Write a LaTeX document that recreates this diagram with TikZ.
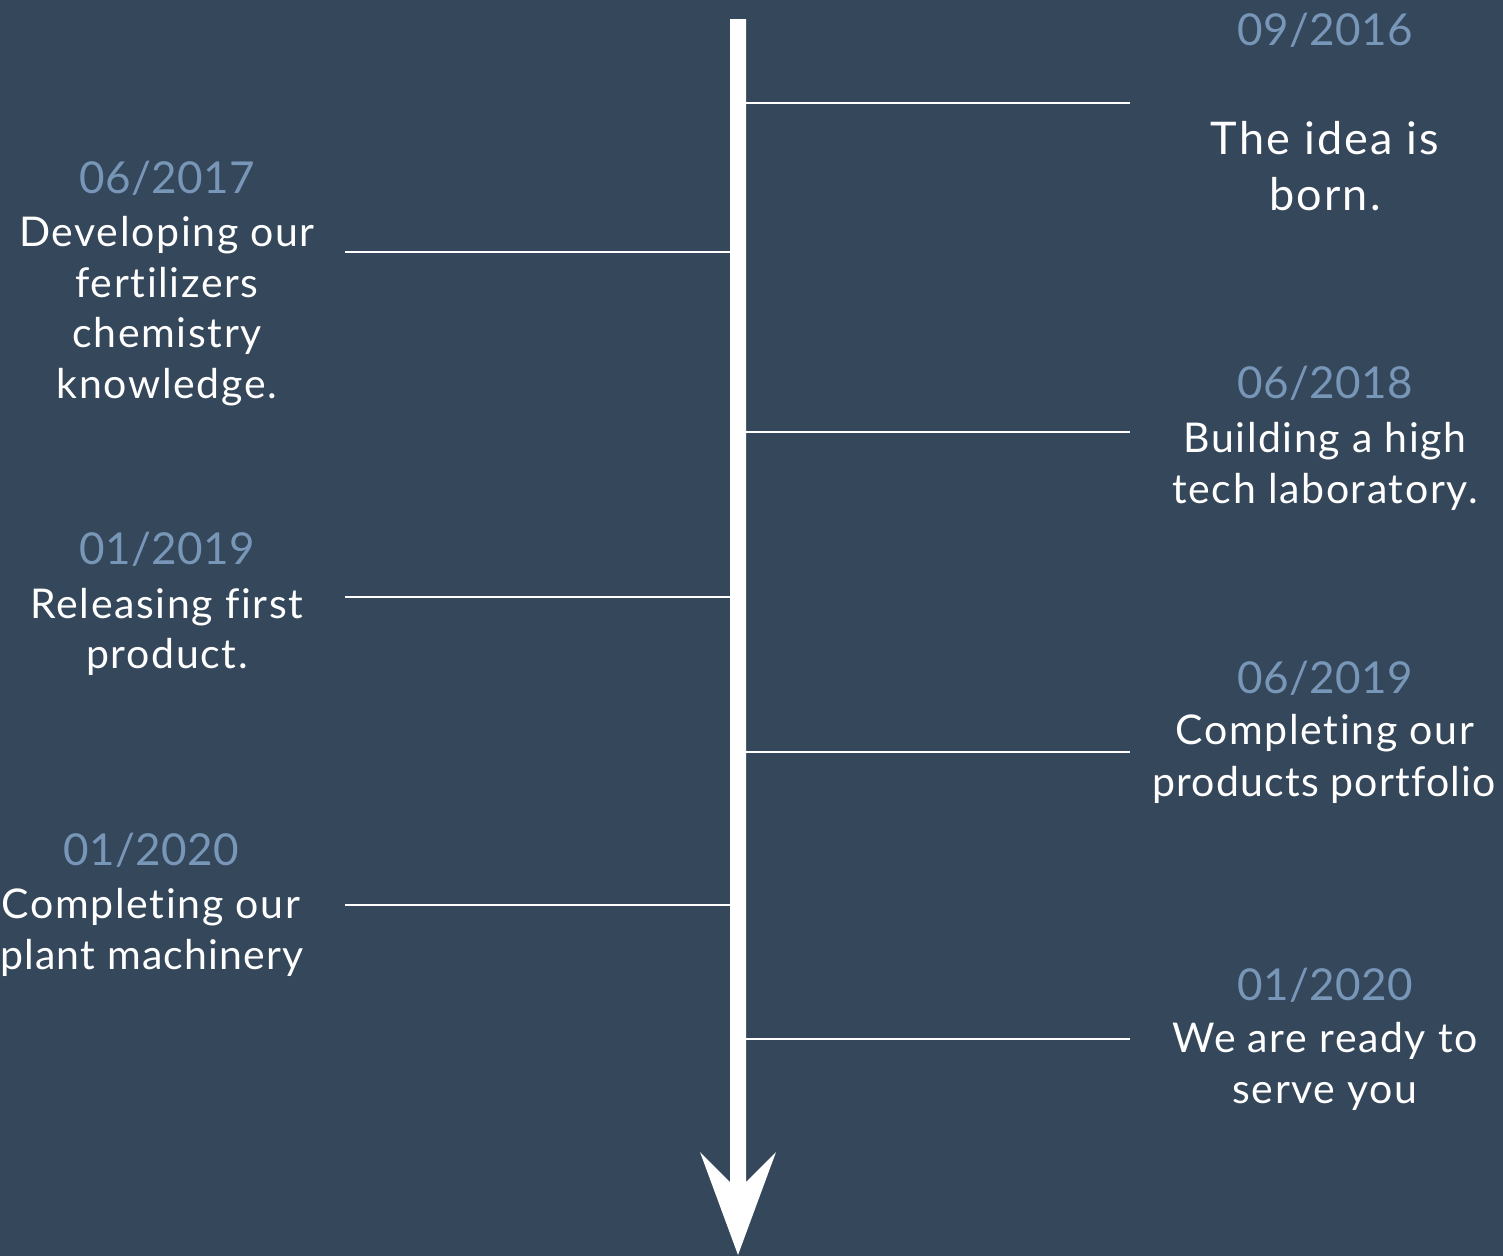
\documentclass[tikz,border=0pt]{standalone}
\usepackage{fontspec}
\setmainfont{Lato}[Ligatures=NoCommon]
\newfontfamily\bodyfont{Lato}[Ligatures=NoCommon, LetterSpace=4]
\newfontfamily\tightfont{Lato}[Ligatures=NoCommon, LetterSpace=3]
\newfontfamily\bigfont{Lato}[Ligatures=NoCommon, LetterSpace=5]
\newfontfamily\datefont{Lato}[Ligatures=NoCommon, LetterSpace=1]
\definecolor{bg}{HTML}{35475A}
\definecolor{datec}{HTML}{7897B8}
\tikzset{
  datetxt/.style={anchor=base, text=datec, font=\datefont\fontsize{44}{50}\selectfont, inner sep=0pt},
  bodytxt/.style={anchor=base, text=white, font=\bodyfont\fontsize{41}{50}\selectfont, inner sep=0pt},
  tighttxt/.style={anchor=base, text=white, font=\tightfont\fontsize{41}{50}\selectfont, inner sep=0pt},
  bigtxt/.style={anchor=base, text=white, font=\bigfont\fontsize{45}{50}\selectfont, inner sep=0pt},
  tick/.style={draw=white, line width=2pt},
}
\begin{document}
\begin{tikzpicture}[x=1pt,y=-1pt]
\fill[bg] (0,0) rectangle (1503,1256);
\useasboundingbox (0,0) rectangle (1503,1256);
% axis
\coordinate (top) at (738,19);
\coordinate (tip) at (738,1255);
\fill[white] (730,19) -- (746,19) -- (746,1182) -- (776,1152) -- (tip) -- (700,1152) -- (730,1182) -- cycle;
% right ticks
\foreach \n/\y in {r1/103, r2/432, r3/752, r4/1039}{
  \coordinate (\n a) at (746,\y);
  \coordinate (\n b) at (1130,\y);
  \draw[tick] (\n a) -- (\n b);
}
% left ticks
\foreach \n/\y in {l1/252, l2/597, l3/905}{
  \coordinate (\n a) at (730,\y);
  \coordinate (\n b) at (345,\y);
  \draw[tick] (\n a) -- (\n b);
}
% right texts
\node[datetxt] (d1) at (1325,45) {09/2016};
\node[bigtxt] (t1a) at (1325,154) {The idea is};
\node[bigtxt] (t1b) at (1325,210) {born.};
\node[datetxt] (d3) at (1325,398) {06/2018};
\node[bodytxt] (t3a) at (1325,452) {Building a high};
\node[bodytxt] (t3b) at (1325,503) {tech laboratory.};
\node[datetxt] (d5) at (1325,693) {06/2019};
\node[bodytxt] (t5a) at (1325,744) {Completing our};
\node[tighttxt] (t5b) at (1324,796) {products portfolio};
\node[datetxt] (d7) at (1325,1000) {01/2020};
\node[bodytxt] (t7a) at (1325,1052) {We are ready to};
\node[bodytxt] (t7b) at (1325,1103) {serve you};
% left texts
\node[datetxt] (d2) at (167,193) {06/2017};
\node[bodytxt] (t2a) at (167,246) {Developing our};
\node[bodytxt] (t2b) at (167,297) {fertilizers};
\node[bodytxt] (t2c) at (167,347) {chemistry};
\node[bodytxt] (t2d) at (167,398) {knowledge.};
\node[datetxt] (d4) at (167,564) {01/2019};
\node[bodytxt] (t4a) at (167,618) {Releasing first};
\node[bodytxt] (t4b) at (167,668) {product.};
\node[datetxt] (d6) at (151,865) {01/2020};
\node[bodytxt] (t6a) at (151,918) {Completing our};
\node[tighttxt] (t6b) at (152,969) {plant machinery};
\end{tikzpicture}
\end{document}
